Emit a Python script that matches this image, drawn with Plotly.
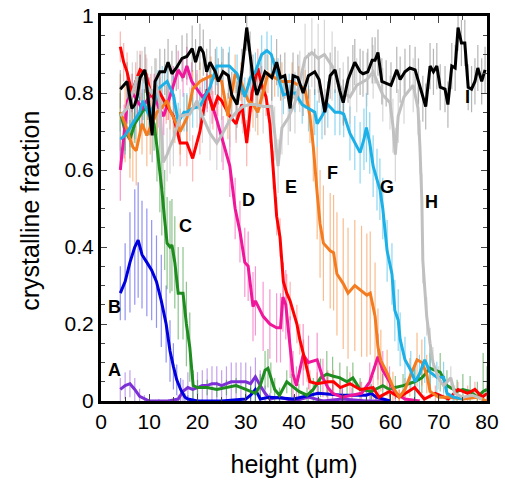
import plotly.graph_objects as go

# ---------------- data ----------------
A_x = [4, 5, 6, 7, 8, 9, 10, 12, 14, 16, 17, 18, 19, 20, 21, 22, 23, 24, 25, 26, 27, 28, 29, 30, 31, 32, 33, 34, 35, 37, 40, 43, 46, 50, 55, 60]
A_y = [0.03, 0.04, 0.045, 0.03, 0.012, 0.005, 0, 0, 0, 0.005, 0.025, 0.035, 0.03, 0.035, 0.04, 0.04, 0.045, 0.045, 0.04, 0.045, 0.05, 0.05, 0.05, 0.05, 0.045, 0.063, 0.04, 0.02, 0.005, 0.01, 0, 0.01, 0.0, 0.005, 0, 0]
A_e = [0.03, 0.035, 0.035, 0.03, 0.02, 0.01, 0.005, 0.005, 0.005, 0.01, 0.03, 0.04, 0.04, 0.04, 0.04, 0.045, 0.045, 0.045, 0.04, 0.045, 0.05, 0.05, 0.05, 0.05, 0.045, 0.05, 0.04, 0.02, 0.01, 0.01, 0.005, 0.01, 0.005, 0.005, 0.005, 0.005]

B_x = [4, 5, 6, 7, 7.7, 8.5, 9.5, 10.5, 11.5, 12.5, 13.5, 14.3, 15, 15.7, 16.5, 17.4, 18, 20, 25, 30, 31, 32, 33, 35, 40, 45, 50, 55, 56, 57, 60]
B_y = [0.28, 0.31, 0.36, 0.4, 0.418, 0.38, 0.36, 0.34, 0.31, 0.26, 0.2, 0.13, 0.09, 0.055, 0.03, 0.01, 0.005, 0, 0, 0.005, 0.015, 0.03, 0.005, 0.01, 0.005, 0.02, 0.015, 0.015, 0.02, 0.01, 0]
B_e = [0.07, 0.1, 0.13, 0.15, 0.15, 0.14, 0.14, 0.13, 0.12, 0.12, 0.1, 0.08, 0.06, 0.04, 0.03, 0.01, 0.01, 0.005, 0.005, 0.01, 0.02, 0.03, 0.01, 0.01, 0.01, 0.02, 0.02, 0.02, 0.02, 0.01, 0.005]

C_x = [4, 5, 6, 7, 8, 9, 10, 11, 11.6, 12.2, 12.6, 13.2, 13.7, 14.3, 14.7, 15.3, 16, 17, 17.7, 18.4, 19.1, 20, 22, 24, 26, 28, 30, 31, 32, 33, 34, 34.6, 35.2, 36, 37, 38.5, 39.5, 41, 42.7, 44, 45.5, 46.8, 48, 49.5, 51, 52.2, 53.7, 56, 58.4, 59.8, 61, 62.6, 65, 66.5, 68.2, 70.3, 71.7, 73.8, 75, 76.5, 78, 79.2, 80]
C_y = [0.75, 0.7, 0.68, 0.72, 0.74, 0.76, 0.75, 0.72, 0.66, 0.6, 0.55, 0.47, 0.41, 0.4, 0.405, 0.36, 0.28, 0.28, 0.2, 0.14, 0.04, 0.035, 0.035, 0.03, 0.035, 0.04, 0.03, 0.025, 0.02, 0.04, 0.08, 0.085, 0.06, 0.03, 0.015, 0.05, 0.04, 0.025, 0.015, 0.03, 0.06, 0.07, 0.065, 0.06, 0.05, 0.06, 0.03, 0.025, 0.04, 0.03, 0.035, 0.04, 0.05, 0.06, 0.085, 0.075, 0.04, 0.025, 0.03, 0.025, 0.01, 0.025, 0.03]
C_e = [0.05, 0.05, 0.05, 0.05, 0.05, 0.05, 0.06, 0.07, 0.09, 0.11, 0.12, 0.13, 0.12, 0.12, 0.12, 0.12, 0.12, 0.12, 0.11, 0.09, 0.04, 0.02, 0.02, 0.02, 0.02, 0.02, 0.02, 0.02, 0.02, 0.03, 0.05, 0.05, 0.04, 0.03, 0.02, 0.03, 0.03, 0.02, 0.02, 0.03, 0.05, 0.06, 0.05, 0.04, 0.04, 0.04, 0.03, 0.02, 0.03, 0.03, 0.03, 0.03, 0.04, 0.04, 0.05, 0.05, 0.04, 0.03, 0.04, 0.04, 0.04, 0.1, 0.06]

D_x = [4, 4.8, 5.5, 6.5, 7.5, 8.5, 10, 11, 12, 13, 14, 15, 16, 17, 17.8, 18.8, 19.9, 21, 22, 23, 24, 25.3, 26.7, 27.8, 28.8, 29.8, 30.5, 31.5, 32, 33.6, 35, 36.4, 37.2, 37.7, 38.3, 39.2, 39.8, 40.5, 41.9, 43, 44.8, 46, 47, 48, 50, 52, 54, 55.7, 57.4, 58.4, 59.8, 61, 63, 66]
D_y = [0.6, 0.7, 0.78, 0.8, 0.78, 0.76, 0.79, 0.8, 0.76, 0.74, 0.78, 0.82, 0.86, 0.84, 0.87, 0.83, 0.81, 0.79, 0.8, 0.77, 0.73, 0.67, 0.61, 0.5, 0.44, 0.36, 0.35, 0.245, 0.26, 0.22, 0.2, 0.19, 0.19, 0.27, 0.25, 0.14, 0.07, 0.04, 0.12, 0.1, 0.107, 0.06, 0.035, 0.02, 0.01, 0.015, 0.02, 0.05, 0.115, 0.08, 0.05, 0.02, 0.005, 0]
D_e = [0.08, 0.07, 0.06, 0.05, 0.05, 0.05, 0.05, 0.05, 0.05, 0.05, 0.05, 0.05, 0.05, 0.05, 0.05, 0.05, 0.05, 0.05, 0.05, 0.05, 0.06, 0.07, 0.08, 0.08, 0.08, 0.09, 0.09, 0.09, 0.09, 0.09, 0.09, 0.09, 0.09, 0.09, 0.09, 0.08, 0.06, 0.05, 0.08, 0.07, 0.07, 0.05, 0.04, 0.03, 0.02, 0.02, 0.03, 0.05, 0.06, 0.05, 0.04, 0.02, 0.01, 0.005]

E_x = [4, 4.7, 5.4, 6.4, 7.2, 8.1, 9.3, 10.3, 11.2, 12.2, 13.5, 15, 16.4, 17.8, 19, 20.5, 22, 23.2, 24.2, 25, 26.7, 28, 29.2, 30.2, 31.3, 32.5, 33.3, 34.2, 35, 35.7, 36.4, 37.1, 37.8, 38.5, 39.2, 40.6, 41.2, 42, 42.7, 43.3, 44.8, 47, 48.2, 49.6, 51.6, 53.7, 56.4, 57.6, 59.8, 61.8, 65, 67, 69.3, 72, 74, 76, 77.5, 79, 80]
E_y = [0.92, 0.88, 0.855, 0.8, 0.83, 0.86, 0.85, 0.8, 0.78, 0.8, 0.77, 0.74, 0.67, 0.67, 0.63, 0.7, 0.81, 0.755, 0.79, 0.78, 0.74, 0.72, 0.77, 0.67, 0.8, 0.865, 0.82, 0.79, 0.72, 0.6, 0.48, 0.425, 0.31, 0.28, 0.26, 0.2, 0.16, 0.12, 0.08, 0.05, 0.045, 0.05, 0.05, 0.035, 0.045, 0.03, 0.035, 0.01, 0.025, 0.01, 0.035, 0.005, 0.02, 0.005, 0.03, 0.02, 0.03, 0.01, 0.02]
E_e = [0.04, 0.05, 0.05, 0.05, 0.05, 0.05, 0.05, 0.05, 0.05, 0.05, 0.05, 0.05, 0.06, 0.06, 0.06, 0.06, 0.05, 0.05, 0.05, 0.05, 0.05, 0.05, 0.05, 0.06, 0.05, 0.05, 0.05, 0.05, 0.05, 0.05, 0.05, 0.05, 0.05, 0.05, 0.05, 0.05, 0.04, 0.04, 0.03, 0.03, 0.03, 0.03, 0.03, 0.03, 0.03, 0.02, 0.03, 0.02, 0.02, 0.02, 0.03, 0.01, 0.02, 0.01, 0.02, 0.02, 0.02, 0.01, 0.02]

F_x = [4, 5, 6, 6.6, 7.3, 8.5, 9.5, 10.2, 11.6, 12.5, 13.7, 14.3, 15.3, 16.4, 17.8, 19, 20.5, 22.8, 25, 26.3, 27.8, 29, 30.5, 31.5, 32.5, 34.6, 36, 37.5, 39.6, 41, 42.3, 43.3, 44, 44.8, 45.4, 46.1, 47.5, 48.2, 48.9, 50.2, 51.2, 52.6, 54, 55.1, 55.8, 56.8, 57.4, 58, 59.3, 60.5, 61.8, 63, 64, 65.5, 66.5, 67.5, 68.2, 70, 72, 75, 78, 80]
F_y = [0.75, 0.72, 0.68, 0.66, 0.65, 0.72, 0.69, 0.71, 0.75, 0.76, 0.78, 0.755, 0.73, 0.70, 0.735, 0.81, 0.83, 0.845, 0.83, 0.74, 0.85, 0.83, 0.78, 0.77, 0.75, 0.85, 0.84, 0.83, 0.83, 0.82, 0.81, 0.74, 0.66, 0.54, 0.46, 0.41, 0.39, 0.385, 0.33, 0.305, 0.28, 0.30, 0.285, 0.275, 0.28, 0.22, 0.14, 0.105, 0.073, 0.036, 0.01, 0.03, 0.062, 0.107, 0.1, 0.07, 0.025, 0.01, 0.01, 0.005, 0.01, 0.0]
F_e = [0.1, 0.1, 0.1, 0.09, 0.09, 0.08, 0.08, 0.07, 0.06, 0.06, 0.05, 0.05, 0.06, 0.06, 0.06, 0.05, 0.05, 0.05, 0.05, 0.06, 0.05, 0.05, 0.06, 0.06, 0.06, 0.05, 0.05, 0.05, 0.05, 0.05, 0.05, 0.07, 0.09, 0.12, 0.14, 0.15, 0.15, 0.15, 0.16, 0.17, 0.17, 0.17, 0.17, 0.16, 0.16, 0.14, 0.1, 0.08, 0.06, 0.04, 0.02, 0.03, 0.05, 0.07, 0.06, 0.05, 0.02, 0.01, 0.01, 0.005, 0.01, 0.005]

G_x = [4, 5, 6, 7, 8, 8.7, 10, 11, 11.8, 12.7, 13.7, 15, 16, 17.2, 17.8, 19, 20.5, 21.5, 22.6, 24, 25, 26.6, 28.2, 29.8, 31, 32, 33.3, 34.4, 35.3, 36.7, 37.8, 39, 40.2, 41.7, 43, 44.3, 44.8, 45.8, 47, 48.5, 49.5, 50.3, 51.6, 52.6, 53.7, 54.5, 55, 55.7, 56.4, 57.2, 57.8, 58.4, 59.3, 60.3, 60.9, 61.6, 62, 63, 64.2, 65.1, 66, 67.1, 68.2, 69.6, 71, 71.7, 73, 75]
G_y = [0.68, 0.69, 0.71, 0.73, 0.75, 0.78, 0.74, 0.77, 0.81, 0.82, 0.83, 0.795, 0.725, 0.75, 0.75, 0.76, 0.765, 0.79, 0.815, 0.87, 0.87, 0.87, 0.85, 0.79, 0.84, 0.855, 0.9, 0.91, 0.9, 0.84, 0.795, 0.80, 0.80, 0.77, 0.76, 0.75, 0.72, 0.74, 0.77, 0.75, 0.75, 0.745, 0.695, 0.67, 0.645, 0.68, 0.71, 0.67, 0.61, 0.575, 0.55, 0.5, 0.39, 0.33, 0.235, 0.21, 0.16, 0.107, 0.08, 0.05, 0.07, 0.107, 0.075, 0.062, 0.062, 0.02, 0.01, 0.005]
G_e = [0.05, 0.05, 0.05, 0.05, 0.05, 0.05, 0.05, 0.05, 0.05, 0.05, 0.05, 0.05, 0.05, 0.05, 0.05, 0.05, 0.05, 0.05, 0.05, 0.05, 0.05, 0.05, 0.05, 0.05, 0.05, 0.05, 0.05, 0.05, 0.05, 0.05, 0.05, 0.05, 0.05, 0.05, 0.06, 0.06, 0.06, 0.06, 0.06, 0.06, 0.06, 0.06, 0.07, 0.07, 0.08, 0.08, 0.09, 0.08, 0.08, 0.08, 0.08, 0.08, 0.08, 0.08, 0.08, 0.08, 0.07, 0.06, 0.05, 0.05, 0.05, 0.06, 0.05, 0.04, 0.04, 0.02, 0.01, 0.005]

H_x = [4, 5.4, 6.5, 7.5, 8.5, 9.5, 10.5, 11.5, 12.2, 12.9, 13.7, 14.3, 15, 16.4, 18.4, 19.9, 21, 22.6, 24, 25, 26.7, 28, 29.4, 30.9, 32, 33.6, 35.4, 36, 36.7, 37.5, 38.8, 40.2, 41.2, 42.3, 43.7, 45, 46.3, 47.9, 49.1, 50.2, 51.6, 53, 55.1, 56.4, 58.4, 59.9, 60.5, 61, 61.6, 62.8, 64.7, 65.7, 66.1, 66.5, 66.7, 67.5, 68.2, 68.8, 69.9, 71, 72.5, 73.3, 75, 77, 79]
H_y = [0.74, 0.76, 0.8, 0.84, 0.84, 0.82, 0.8, 0.82, 0.77, 0.62, 0.64, 0.66, 0.68, 0.74, 0.745, 0.78, 0.74, 0.695, 0.67, 0.69, 0.73, 0.75, 0.765, 0.77, 0.77, 0.765, 0.765, 0.695, 0.61, 0.71, 0.735, 0.775, 0.83, 0.89, 0.905, 0.89, 0.9, 0.87, 0.83, 0.80, 0.79, 0.82, 0.835, 0.855, 0.795, 0.775, 0.715, 0.64, 0.74, 0.79, 0.82, 0.76, 0.66, 0.52, 0.365, 0.22, 0.15, 0.1, 0.06, 0.04, 0.06, 0.02, 0.01, 0.015, 0.005]
H_e = [0.08, 0.08, 0.08, 0.07, 0.07, 0.07, 0.07, 0.07, 0.07, 0.07, 0.07, 0.07, 0.07, 0.07, 0.07, 0.07, 0.07, 0.07, 0.07, 0.07, 0.07, 0.07, 0.07, 0.07, 0.07, 0.07, 0.07, 0.07, 0.07, 0.07, 0.07, 0.08, 0.08, 0.09, 0.09, 0.09, 0.09, 0.09, 0.08, 0.08, 0.07, 0.07, 0.07, 0.07, 0.07, 0.07, 0.07, 0.07, 0.07, 0.07, 0.07, 0.07, 0.07, 0.07, 0.06, 0.05, 0.04, 0.04, 0.03, 0.03, 0.03, 0.02, 0.01, 0.01, 0.01]

I_x = [4, 5.4, 6.4, 7, 7.5, 8.1, 9.1, 9.7, 10.6, 11.2, 12.2, 13.2, 13.9, 14.7, 15.6, 16.8, 17.8, 18.9, 19.6, 20.5, 21.2, 21.9, 22.6, 23.7, 24.3, 25.3, 26.4, 27.1, 28.2, 29.2, 30.2, 30.9, 31.5, 32.3, 33, 34, 35.4, 36.4, 37.2, 38.1, 39.2, 39.8, 40.8, 41.9, 43, 44.3, 45.2, 46.4, 47.5, 48.5, 49.5, 50.2, 51.2, 52.2, 52.6, 53.7, 54.3, 55.3, 56.2, 56.8, 57.4, 58.2, 59.1, 60.1, 61.3, 62, 63, 64, 65.1, 65.8, 66.7, 67.3, 68.2, 68.9, 69.6, 70.3, 71.3, 71.9, 72.7, 73.4, 74, 74.7, 75.4, 76.1, 76.8, 77.5, 78.1, 78.9, 79.6]
I_y = [0.81, 0.83, 0.76, 0.77, 0.79, 0.84, 0.86, 0.79, 0.69, 0.83, 0.855, 0.855, 0.88, 0.85, 0.865, 0.89, 0.895, 0.915, 0.88, 0.92, 0.905, 0.855, 0.88, 0.855, 0.83, 0.855, 0.845, 0.795, 0.77, 0.855, 0.97, 0.9, 0.84, 0.795, 0.82, 0.855, 0.84, 0.88, 0.84, 0.845, 0.76, 0.845, 0.84, 0.80, 0.845, 0.855, 0.835, 0.75, 0.845, 0.86, 0.805, 0.775, 0.835, 0.865, 0.88, 0.855, 0.85, 0.855, 0.885, 0.885, 0.905, 0.83, 0.825, 0.82, 0.86, 0.835, 0.855, 0.865, 0.86, 0.83, 0.785, 0.765, 0.87, 0.855, 0.87, 0.815, 0.81, 0.77, 0.87, 0.865, 0.97, 0.93, 0.93, 0.815, 0.81, 0.83, 0.865, 0.83, 0.86]
I_e = [0.05, 0.05, 0.06, 0.06, 0.06, 0.06, 0.06, 0.06, 0.07, 0.06, 0.06, 0.06, 0.06, 0.06, 0.06, 0.06, 0.06, 0.06, 0.06, 0.06, 0.06, 0.06, 0.06, 0.06, 0.06, 0.06, 0.06, 0.06, 0.06, 0.06, 0.06, 0.06, 0.06, 0.06, 0.06, 0.06, 0.06, 0.06, 0.06, 0.06, 0.06, 0.06, 0.06, 0.06, 0.06, 0.06, 0.06, 0.06, 0.06, 0.06, 0.06, 0.06, 0.06, 0.06, 0.06, 0.06, 0.06, 0.06, 0.06, 0.06, 0.06, 0.06, 0.06, 0.06, 0.06, 0.06, 0.06, 0.06, 0.06, 0.06, 0.06, 0.06, 0.06, 0.06, 0.06, 0.06, 0.06, 0.06, 0.06, 0.06, 0.06, 0.06, 0.06, 0.06, 0.06, 0.06, 0.06, 0.06, 0.06]

series_labels = ["A", "B", "C", "D", "E", "F", "G", "H", "I"]
label_x = [2.7, 2.9, 17.6, 30.5, 39.4, 47.9, 59.3, 68.4, 75.9]
label_y = [0.08, 0.244, 0.455, 0.522, 0.556, 0.592, 0.556, 0.517, 0.79]

x_ticks = [0, 10, 20, 30, 40, 50, 60, 70, 80]
y_ticks = [0, 0.2, 0.4, 0.6, 0.8, 1]
y_tick_text = ["0", "0.2", "0.4", "0.6", "0.8", "1"]

# ---------------- styling ----------------
line_colors = ["#7B2FD4", "#0000DD", "#1E8C1E", "#F0169A", "#FF0000", "#F47C20", "#1DB0E6", "#C0C0C0", "#000000"]
err_colors = ["rgba(123,47,212,0.45)", "rgba(40,40,230,0.5)", "rgba(30,140,30,0.5)", "rgba(240,22,154,0.45)",
              "rgba(255,60,60,0.4)", "rgba(244,124,32,0.5)", "rgba(29,176,230,0.5)", "rgba(180,180,180,0.55)",
              "rgba(90,90,90,0.45)"]

xs = [A_x, B_x, C_x, D_x, E_x, F_x, G_x, H_x, I_x]
ys = [A_y, B_y, C_y, D_y, E_y, F_y, G_y, H_y, I_y]
es = [A_e, B_e, C_e, D_e, E_e, F_e, G_e, H_e, I_e]

fig = go.Figure()
# error bars first (behind all lines)
for x, y, e, c in zip(xs, ys, es, err_colors):
    fig.add_trace(go.Scatter(x=x, y=y, mode="markers", marker=dict(size=1, opacity=0),
                             error_y=dict(type="data", array=e, visible=True, color=c, thickness=1.2, width=0),
                             showlegend=False, hoverinfo="skip"))
for x, y, c in zip(xs, ys, line_colors):
    fig.add_trace(go.Scatter(x=x, y=y, mode="lines", line=dict(color=c, width=3), showlegend=False))

for t, lx, ly in zip(series_labels, label_x, label_y):
    fig.add_annotation(x=lx, y=ly, text="<b>%s</b>" % t, showarrow=False,
                       font=dict(family="Liberation Sans, Arial", size=18, color="black"))

# y-axis title placed as a rotated annotation for exact placement
fig.add_annotation(xref="paper", yref="paper", x=-0.184, y=0.494, text="crystalline fraction",
                   textangle=-90, showarrow=False, xanchor="center", yanchor="middle",
                   font=dict(family="Liberation Sans, Arial", size=25, color="black"))

fig.update_layout(
    width=505, height=482,
    margin=dict(l=101, r=18, t=16, b=81, autoexpand=False),
    paper_bgcolor="white", plot_bgcolor="white",
    font=dict(family="Liberation Sans, Arial", size=21, color="black"),
    xaxis=dict(range=[0, 80], tickvals=x_ticks, ticks="inside", ticklen=7, tickwidth=1,
               showline=True, linewidth=3, linecolor="black", mirror="allticks",
               showgrid=False, zeroline=False, automargin=False, ticklabeloverflow="allow",
               minor=dict(dtick=5, tick0=0, ticks="inside", ticklen=4, tickwidth=1, showgrid=False),
               title=dict(text="height (μm)", font=dict(size=25), standoff=24)),
    yaxis=dict(range=[0, 1], tickvals=y_ticks, ticktext=y_tick_text, ticks="inside", ticklen=6, tickwidth=1,
               showline=True, linewidth=3, linecolor="black", mirror="allticks",
               showgrid=False, zeroline=False, automargin=False, ticklabeloverflow="allow",
               minor=dict(dtick=0.05, tick0=0, ticks="inside", ticklen=4, tickwidth=1, showgrid=False)),
)

# remove the default 8px page margin so the figure fills the window exactly
fig.write_html("out.html", config={"displayModeBar": False},
               post_script="document.body.style.margin='0';")
